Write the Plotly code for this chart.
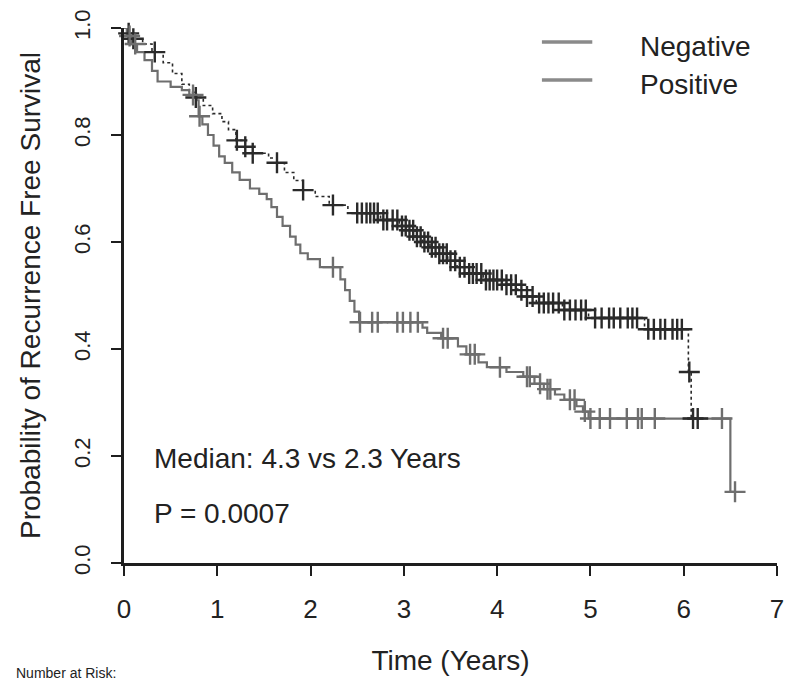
import numpy as np
import plotly.graph_objects as go

# ---------------- data ----------------
neg_time = [0, 0.04, 0.1, 0.2, 0.3, 0.42, 0.52, 0.62, 0.7, 0.76, 0.85, 0.95, 1.05, 1.12, 1.2,
            1.3, 1.38, 1.55, 1.64, 1.72, 1.82, 1.92, 2.05, 2.2, 2.4, 2.75, 2.95, 3.03, 3.12,
            3.2, 3.28, 3.38, 3.47, 3.57, 3.7, 3.85, 4.1, 4.22, 4.32, 4.42, 4.7, 4.98, 5.58,
            6.05, 6.08, 6.15]
neg_surv = [1.0, 0.99, 0.98, 0.97, 0.955, 0.935, 0.915, 0.895, 0.88, 0.87, 0.855, 0.84, 0.825,
            0.81, 0.79, 0.778, 0.766, 0.757, 0.748, 0.73, 0.715, 0.697, 0.685, 0.669, 0.654,
            0.641, 0.63, 0.622, 0.61, 0.6, 0.59, 0.578, 0.565, 0.553, 0.541, 0.529, 0.52, 0.51,
            0.498, 0.486, 0.473, 0.458, 0.437, 0.357, 0.27, 0.27]
neg_cens = [0.05, 0.1, 0.33, 0.77, 1.21, 1.3, 1.38, 1.64, 1.92, 2.24, 2.5, 2.55, 2.6, 2.64,
            2.68, 2.72, 2.78, 2.82, 2.88, 2.93, 2.98, 3.02, 3.06, 3.1, 3.14, 3.18, 3.22, 3.26,
            3.3, 3.34, 3.38, 3.42, 3.46, 3.5, 3.55, 3.6, 3.65, 3.7, 3.74, 3.78, 3.83, 3.88,
            3.92, 3.96, 4.0, 4.05, 4.1, 4.15, 4.2, 4.26, 4.32, 4.38, 4.45, 4.5, 4.55, 4.6,
            4.66, 4.72, 4.78, 4.84, 4.9, 4.95, 5.05, 5.12, 5.2, 5.25, 5.32, 5.4, 5.45, 5.5,
            5.62, 5.68, 5.75, 5.8, 5.88, 5.93, 5.98, 6.06, 6.1, 6.15]

pos_time = [0, 0.03, 0.08, 0.14, 0.22, 0.3, 0.36, 0.5, 0.62, 0.7, 0.78, 0.8, 0.84, 0.9, 0.96,
            1.02, 1.08, 1.16, 1.24, 1.35, 1.45, 1.53, 1.58, 1.64, 1.7, 1.78, 1.84, 1.89, 1.97,
            2.1, 2.32, 2.37, 2.42, 2.47, 2.52, 3.2, 3.25, 3.4, 3.58, 3.67, 3.8, 3.89, 4.1, 4.28,
            4.4, 4.5, 4.62, 4.72, 4.85, 4.92, 4.98, 6.5, 6.55]
pos_surv = [1.0, 0.985, 0.97, 0.955, 0.94, 0.92, 0.90, 0.89, 0.884, 0.875, 0.865, 0.835, 0.82,
            0.80, 0.78, 0.76, 0.748, 0.73, 0.716, 0.70, 0.69, 0.68, 0.665, 0.647, 0.63, 0.61,
            0.595, 0.579, 0.568, 0.553, 0.53, 0.51, 0.49, 0.47, 0.45, 0.44, 0.43, 0.42, 0.405,
            0.39, 0.375, 0.366, 0.357, 0.348, 0.335, 0.325, 0.315, 0.305, 0.293, 0.283, 0.27,
            0.133, 0.133]
pos_cens = [0.06, 0.12, 0.74, 0.81, 2.24, 2.53, 2.66, 2.72, 2.93, 2.99, 3.07, 3.15, 3.42, 3.47,
            3.71, 3.76, 4.03, 4.32, 4.35, 4.46, 4.54, 4.57, 4.78, 4.83, 4.94, 5.0, 5.1, 5.21,
            5.39, 5.51, 5.55, 5.69, 6.41, 6.55]

x_ticks = [0, 1, 2, 3, 4, 5, 6, 7]
y_ticks = [0.0, 0.2, 0.4, 0.6, 0.8, 1.0]
group_names = ["Negative", "Positive"]
median_text = "Median: 4.3 vs 2.3 Years"
p_text = "P = 0.0007"


def surv_at(times, survs, t):
    idx = np.searchsorted(np.array(times), np.array(t), side="right") - 1
    return np.array(survs)[idx]


FONT = "Liberation Sans, Arial, Helvetica, sans-serif"
NEG_COL = "#2a2a2a"
POS_COL = "#6e6e6e"
AX_COL = "#1e1e1e"
TXT = "#222222"

fig = go.Figure()

fig.add_trace(go.Scatter(x=neg_time, y=neg_surv, mode="lines", line_shape="hv",
                         line=dict(color=NEG_COL, width=1.6, dash="dot"),
                         showlegend=False, cliponaxis=False))
fig.add_trace(go.Scatter(x=pos_time, y=pos_surv, mode="lines", line_shape="hv",
                         line=dict(color=POS_COL, width=2.2),
                         showlegend=False, cliponaxis=False))
fig.add_trace(go.Scatter(x=neg_cens, y=surv_at(neg_time, neg_surv, neg_cens), mode="markers",
                         marker=dict(symbol="cross-thin", size=15,
                                     line=dict(color=NEG_COL, width=2.4)),
                         showlegend=False, cliponaxis=False))
fig.add_trace(go.Scatter(x=pos_cens, y=surv_at(pos_time, pos_surv, pos_cens), mode="markers",
                         marker=dict(symbol="cross-thin", size=15,
                                     line=dict(color=POS_COL, width=2.4)),
                         showlegend=False, cliponaxis=False))

# legend drawn manually (both entries are plain grey lines in the original)
leg_y = [0.974, 0.903]
for name, yy in zip(group_names, leg_y):
    fig.add_shape(type="line", x0=4.48, x1=5.02, y0=yy, y1=yy, xref="x", yref="y",
                  line=dict(color="#8a8a8a", width=3.5))
    fig.add_annotation(x=5.51, y=yy - 0.009, xref="x", yref="y", text=name,
                       showarrow=False, xanchor="left", yanchor="middle",
                       font=dict(family=FONT, size=28, color=TXT))

fig.add_annotation(x=0.3, y=0.196, xref="x", yref="y", text=median_text, showarrow=False,
                   xanchor="left", yanchor="middle", font=dict(family=FONT, size=28, color=TXT))
fig.add_annotation(x=0.3, y=0.093, xref="x", yref="y", text=p_text, showarrow=False,
                   xanchor="left", yanchor="middle", font=dict(family=FONT, size=28, color=TXT))
fig.add_annotation(x=-6 / 653, y=-0.187, xref="paper", yref="paper", text="Number at Risk:",
                   showarrow=False, xanchor="right", yanchor="top",
                   font=dict(family=FONT, size=14, color=TXT))

fig.update_layout(
    width=793, height=681,
    margin=dict(l=124, r=16, t=28, b=118),
    paper_bgcolor="white", plot_bgcolor="white",
    font=dict(family=FONT, color=TXT),
    showlegend=False,
    xaxis=dict(range=[0, 7], tickvals=x_ticks, ticktext=[str(v) for v in x_ticks],
               automargin=False,
               showgrid=False, zeroline=False, showline=True, linecolor=AX_COL, linewidth=2.5,
               ticks="outside", ticklen=10, tickwidth=2, tickcolor=AX_COL,
               tickfont=dict(family=FONT, size=26, color=TXT), ticklabelstandoff=11,
               title=dict(text="Time (Years)", font=dict(family=FONT, size=28, color=TXT),
                          standoff=28)),
    yaxis=dict(range=[0, 1], tickvals=y_ticks, ticktext=[f"{v:.1f}" for v in y_ticks],
               tickangle=-90, automargin=False,
               showgrid=False, zeroline=False, showline=True, linecolor=AX_COL, linewidth=2.5,
               ticks="outside", ticklen=10, tickwidth=2, tickcolor=AX_COL,
               tickfont=dict(family=FONT, size=22, color=TXT), ticklabelstandoff=12,
               title=dict(text="Probability of Recurrence Free Survival",
                          font=dict(family=FONT, size=28, color=TXT), standoff=22)),
)

fig.write_html("out.html", config={"displayModeBar": False},
               post_script="document.body.style.margin='0';document.body.style.padding='0';")
